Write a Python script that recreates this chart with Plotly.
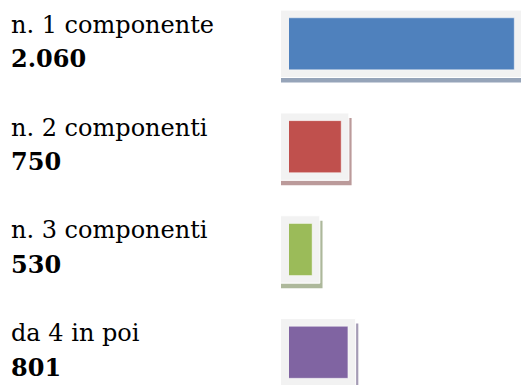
import plotly.graph_objects as go

# Household size groups and their counts
categories = ["n. 1 componente", "n. 2 componenti", "n. 3 componenti", "da 4 in poi"]
counts = [2060, 750, 530, 801]
count_labels = ["2.060", "750", "530", "801"]
bar_colors = ["#4f81bd", "#c0504d", "#9bbb59", "#8064a2"]
shadow_colors = ["#96a4b9", "#bb9a9a", "#adb89b", "#a59cb5"]

# Canvas and plot-area geometry
W, H = 521, 385
L = 281              # left edge of the frame layer
BAR_LEFT_PX = 8      # value bars start this far right of the frames
PLOT_W = W - L
X_MIN, X_MAX = 355, 2111          # value axis (starts at BAR_LEFT_PX)
Y_TOP, Y_BOTTOM = -0.426, 3.318

# Conversion factors from pixels to data units
ux = (X_MAX - X_MIN) / (PLOT_W - BAR_LEFT_PX)
uy = (Y_BOTTOM - Y_TOP) / H
XF_MIN = X_MIN - BAR_LEFT_PX * ux  # frame axis, same scale, wider domain

BAR_PX = 52          # bar thickness
PAD_PX = 7.7         # light frame around each bar
SHADOW_DX, SHADOW_DY = 2.7, 5.0

pos = list(range(len(categories)))
bar_w = BAR_PX * uy
frame_w = (BAR_PX + 2 * PAD_PX) * uy

frame_end = [c + PAD_PX * ux for c in counts]
shadow_end = [c + (PAD_PX + SHADOW_DX) * ux for c in counts]

fig = go.Figure()

# drop shadow behind each framed bar (frame axis "x")
fig.add_trace(go.Bar(
    y=pos, x=shadow_end, orientation="h", xaxis="x", yaxis="y",
    width=frame_w, offset=-frame_w / 2 + SHADOW_DY * uy,
    marker=dict(color=shadow_colors, line=dict(width=0)),
    hoverinfo="skip", showlegend=False,
))
# light grey frame
fig.add_trace(go.Bar(
    y=pos, x=frame_end, orientation="h", xaxis="x", yaxis="y",
    width=frame_w, offset=-frame_w / 2,
    marker=dict(color="#f2f2f2", line=dict(color="#ffffff", width=1)),
    hoverinfo="skip", showlegend=False,
))
# value bars (value axis "x2", drawn on top)
fig.add_trace(go.Bar(
    y=pos, x=counts, orientation="h", xaxis="x2", yaxis="y",
    width=bar_w,
    marker=dict(color=bar_colors, line=dict(color="rgba(255,255,255,0.45)", width=1)),
    hovertext=categories, showlegend=False,
))

label_x = (9 - L) / PLOT_W
annotations = []
for p, name, lab in zip(pos, categories, count_labels):
    annotations.append(dict(
        x=label_x, y=p, xref="paper", yref="y", xanchor="left", yanchor="middle",
        text=name, showarrow=False, yshift=19,
        font=dict(family="DejaVu Serif", size=24, color="#000000"),
    ))
    annotations.append(dict(
        x=label_x, y=p, xref="paper", yref="y", xanchor="left", yanchor="middle",
        text="<b>" + lab + "</b>", showarrow=False, yshift=-15,
        font=dict(family="DejaVu Serif", size=24, color="#000000"),
    ))

fig.update_layout(
    width=W, height=H,
    margin=dict(l=L, r=0, t=0, b=0),
    paper_bgcolor="#ffffff", plot_bgcolor="rgba(0,0,0,0)",
    barmode="overlay",
    xaxis=dict(domain=[0, 1], range=[XF_MIN, X_MAX],
               visible=False, showgrid=False, zeroline=False),
    xaxis2=dict(domain=[BAR_LEFT_PX / PLOT_W, 1], range=[X_MIN, X_MAX], anchor="y",
                visible=False, showgrid=False, zeroline=False),
    yaxis=dict(range=[Y_BOTTOM, Y_TOP], visible=False, showgrid=False, zeroline=False),
    annotations=annotations,
)

fig.write_html("out.html")
